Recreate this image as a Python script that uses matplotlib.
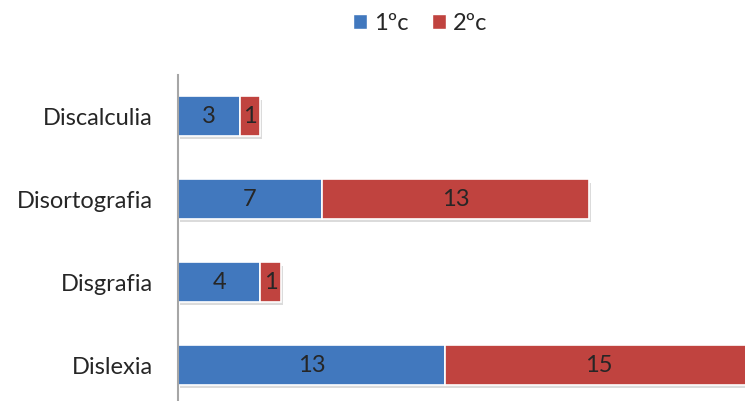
import matplotlib.pyplot as plt
import matplotlib.patheffects as pe
from matplotlib.patches import Patch

# Data
categories = ['Dislexia', 'Disgrafia', 'Disortografia', 'Discalculia']
first_c = [13, 4, 7, 3]
second_c = [15, 1, 13, 1]
series_names = ['1ºc', '2ºc']
colors = ['#4178BE', '#C0433F']

plt.rcParams['font.family'] = ['Lato', 'DejaVu Sans']

fig = plt.figure(figsize=(7.45, 4.01), dpi=100)
ax = fig.add_axes([0.239, -0.0137, 0.761, 0.8277])

shadow = [pe.SimplePatchShadow(offset=(1.5, -2.5), shadow_rgbFace='#999999', alpha=0.35), pe.Normal()]

b1 = ax.barh(categories, first_c, height=0.48, color=colors[0], edgecolor='white',
             linewidth=1.2, path_effects=shadow)
b2 = ax.barh(categories, second_c, left=first_c, height=0.48, color=colors[1],
             edgecolor='white', linewidth=1.2, path_effects=shadow)

for bars, vals, lefts in [(b1, first_c, [0] * 4), (b2, second_c, first_c)]:
    for bar, v, l in zip(bars, vals, lefts):
        ax.text(l + v / 2, bar.get_y() + bar.get_height() / 2, str(v),
                ha='center', va='center', fontsize=17, color='#262626')

ax.set_xlim(0, 27.6)
ax.set_ylim(-0.5, 3.5)
for s in ['top', 'right', 'bottom']:
    ax.spines[s].set_visible(False)
ax.spines['left'].set_color('#A6A6A6')
ax.spines['left'].set_linewidth(1.5)
ax.set_xticks([])
ax.tick_params(axis='y', length=0, labelsize=17, labelcolor='#262626', pad=18)

handles = [Patch(facecolor=c, edgecolor='white') for c in colors]
fig.legend(handles=handles, labels=series_names, loc='upper center',
           bbox_to_anchor=(0.564, 1.02), ncol=2, frameon=False, fontsize=17,
           handlelength=0.6, handleheight=0.6, handletextpad=0.3, columnspacing=1.0,
           labelcolor='#262626')

fig.savefig('out.png', dpi=100)
